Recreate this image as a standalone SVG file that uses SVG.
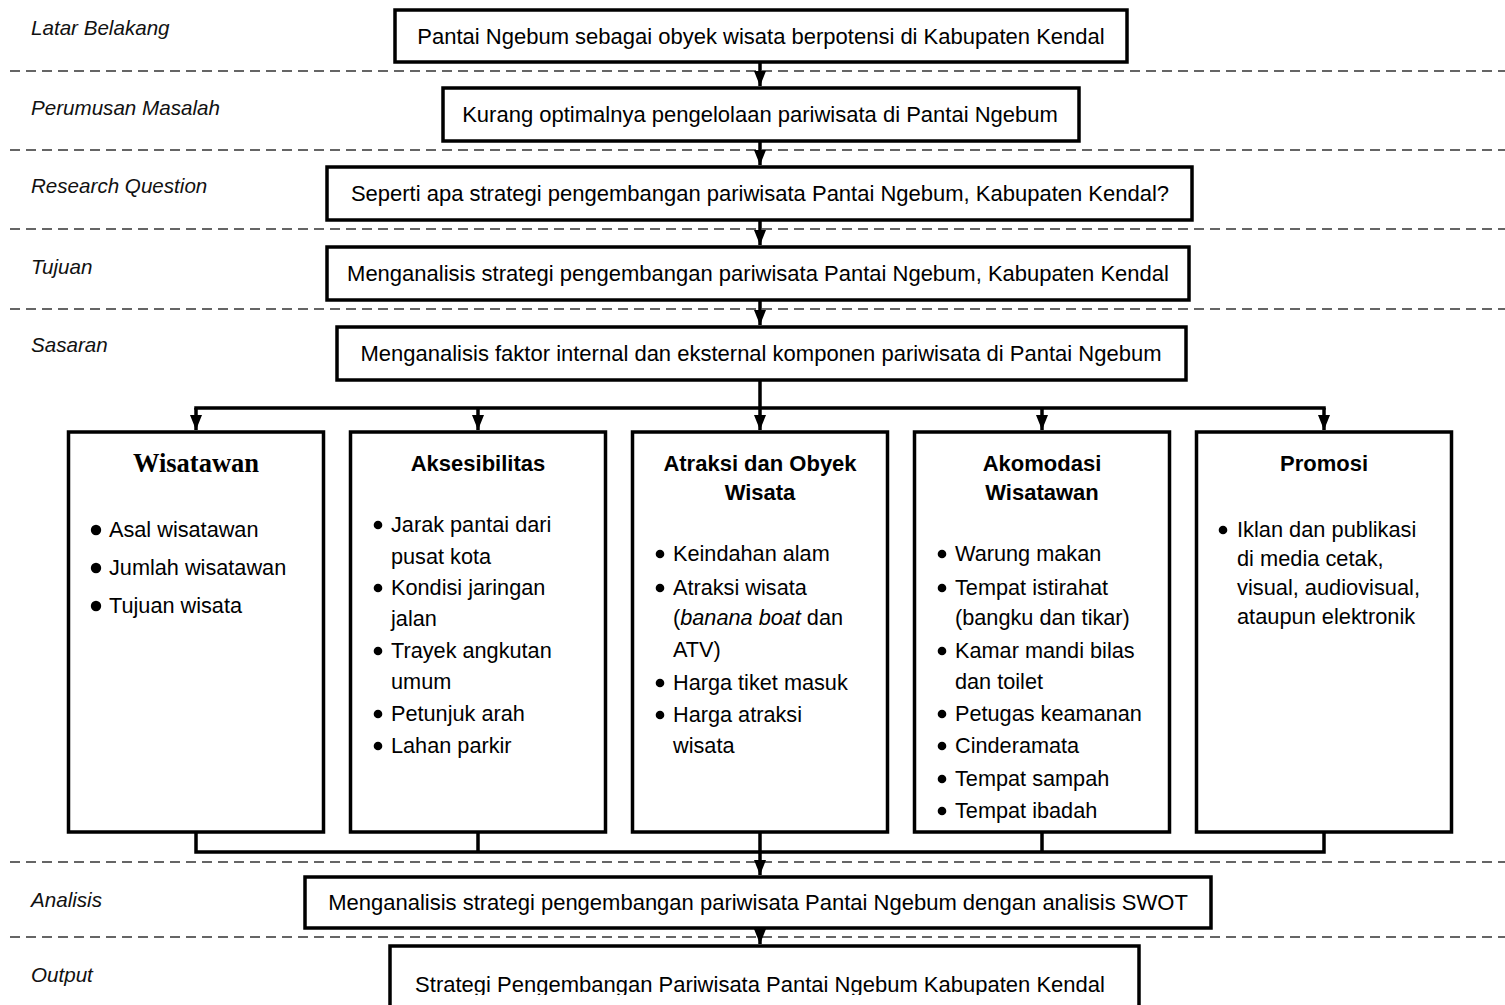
<svg xmlns="http://www.w3.org/2000/svg" width="1505" height="1005" viewBox="0 0 1505 1005">
<style>
  .bg{fill:#fff}
  .box{fill:#fff;stroke:#000;stroke-width:3.5}
  .dash{stroke:#333;stroke-width:1.5;stroke-dasharray:10 6;fill:none}
  .lab{font-family:"Liberation Sans",Arial,sans-serif;font-style:italic;font-size:20.6px;fill:#111}
  .t{font-family:"Liberation Sans",Arial,sans-serif;font-size:22px;fill:#000;text-anchor:middle}
  .h{font-family:"Liberation Sans",Arial,sans-serif;font-size:22px;font-weight:bold;fill:#000;text-anchor:middle}
  .hs{font-family:"Liberation Serif","Times New Roman",serif;font-size:26.5px;font-weight:bold;fill:#000;text-anchor:middle}
  .b{font-family:"Liberation Sans",Arial,sans-serif;font-size:21.7px;fill:#000}
  .p{font-family:"Liberation Sans",Arial,sans-serif;font-size:21.8px;fill:#000}
  .con{stroke:#000;stroke-width:3.5;fill:none}
</style>
<defs>
  <marker id="arr" markerUnits="userSpaceOnUse" viewBox="0 0 15 12" refX="15" refY="6" markerWidth="15" markerHeight="12" orient="auto">
    <path d="M0,0 L15,6 L0,12 z" fill="#000"/>
  </marker>
  <clipPath id="clipOut"><rect x="0" y="0" width="1505" height="995"/></clipPath>
</defs>
<rect class="bg" x="0" y="0" width="1505" height="1005"/>

<g id="separators">
  <line class="dash" x1="10" y1="71" x2="1505" y2="71"/>
  <line class="dash" x1="10" y1="150" x2="1505" y2="150"/>
  <line class="dash" x1="10" y1="229" x2="1505" y2="229"/>
  <line class="dash" x1="10" y1="309" x2="1505" y2="309"/>
  <line class="dash" x1="10" y1="862" x2="1505" y2="862"/>
  <line class="dash" x1="10" y1="937" x2="1505" y2="937"/>
</g>

<g id="labels">
  <text class="lab" x="31" y="35">Latar Belakang</text>
  <text class="lab" x="31" y="115">Perumusan Masalah</text>
  <text class="lab" x="31" y="193">Research Question</text>
  <text class="lab" x="31" y="274">Tujuan</text>
  <text class="lab" x="31" y="352">Sasaran</text>
  <text class="lab" x="31" y="907">Analisis</text>
  <text class="lab" x="31" y="982">Output</text>
</g>

<g id="connectors">
  <line class="con" x1="760" y1="62" x2="760" y2="86" marker-end="url(#arr)"/>
  <line class="con" x1="760" y1="141" x2="760" y2="165" marker-end="url(#arr)"/>
  <line class="con" x1="760" y1="220" x2="760" y2="245" marker-end="url(#arr)"/>
  <line class="con" x1="760" y1="300" x2="760" y2="325" marker-end="url(#arr)"/>
  <line class="con" x1="760" y1="380" x2="760" y2="408"/>
  <line class="con" x1="194.25" y1="408" x2="1325.75" y2="408"/>
  <line class="con" x1="196" y1="408" x2="196" y2="430" marker-end="url(#arr)"/>
  <line class="con" x1="478" y1="408" x2="478" y2="430" marker-end="url(#arr)"/>
  <line class="con" x1="760" y1="408" x2="760" y2="430" marker-end="url(#arr)"/>
  <line class="con" x1="1042" y1="408" x2="1042" y2="430" marker-end="url(#arr)"/>
  <line class="con" x1="1324" y1="408" x2="1324" y2="430" marker-end="url(#arr)"/>
  <path class="con" d="M196,832 V852 M478,832 V852 M1042,832 V852 M1324,832 V852 M194.25,852 H1325.75"/>
  <line class="con" x1="760" y1="832" x2="760" y2="875" marker-end="url(#arr)"/>
  <line class="con" x1="760" y1="928" x2="760" y2="944" marker-end="url(#arr)"/>
</g>

<g id="n-latar">
  <rect class="box" x="395" y="10" width="732" height="52"/>
  <text class="t" x="761" y="44">Pantai Ngebum sebagai obyek wisata berpotensi di Kabupaten Kendal</text>
</g>
<g id="n-masalah">
  <rect class="box" x="443" y="88" width="636" height="53"/>
  <text class="t" x="760" y="122">Kurang optimalnya pengelolaan pariwisata di Pantai Ngebum</text>
</g>
<g id="n-question">
  <rect class="box" x="327" y="167" width="865" height="53"/>
  <text class="t" x="760" y="201">Seperti apa strategi pengembangan pariwisata Pantai Ngebum, Kabupaten Kendal?</text>
</g>
<g id="n-tujuan">
  <rect class="box" x="327" y="247" width="862" height="53"/>
  <text class="t" x="758" y="281">Menganalisis strategi pengembangan pariwisata Pantai Ngebum, Kabupaten Kendal</text>
</g>
<g id="n-sasaran">
  <rect class="box" x="337" y="327" width="849" height="53"/>
  <text class="t" x="761" y="361">Menganalisis faktor internal dan eksternal komponen pariwisata di Pantai Ngebum</text>
</g>

<g id="n-wisatawan">
  <rect class="box" x="68.5" y="432" width="255" height="400"/>
  <text class="hs" x="196" y="472">Wisatawan</text>
  <circle cx="96" cy="530" r="5.2"/>
  <text class="b" x="109" y="537">Asal wisatawan</text>
  <circle cx="96" cy="568" r="5.2"/>
  <text class="b" x="109" y="575">Jumlah wisatawan</text>
  <circle cx="96" cy="606" r="5.2"/>
  <text class="b" x="109" y="613">Tujuan wisata</text>
</g>

<g id="n-aksesibilitas">
  <rect class="box" x="350.5" y="432" width="255" height="400"/>
  <text class="h" x="478" y="471">Aksesibilitas</text>
  <circle cx="378" cy="525" r="4.3"/>
  <text class="b" x="391" y="532">Jarak pantai dari</text>
  <text class="b" x="391" y="564">pusat kota</text>
  <circle cx="378" cy="588" r="4.3"/>
  <text class="b" x="391" y="595">Kondisi jaringan</text>
  <text class="b" x="391" y="626">jalan</text>
  <circle cx="378" cy="651" r="4.3"/>
  <text class="b" x="391" y="658">Trayek angkutan</text>
  <text class="b" x="391" y="689">umum</text>
  <circle cx="378" cy="714" r="4.3"/>
  <text class="b" x="391" y="721">Petunjuk arah</text>
  <circle cx="378" cy="746" r="4.3"/>
  <text class="b" x="391" y="753">Lahan parkir</text>
</g>

<g id="n-atraksi">
  <rect class="box" x="632.5" y="432" width="255" height="400"/>
  <text class="h" x="760" y="471">Atraksi dan Obyek</text>
  <text class="h" x="760" y="500">Wisata</text>
  <circle cx="660" cy="554" r="4.3"/>
  <text class="b" x="673" y="561">Keindahan alam</text>
  <circle cx="660" cy="588" r="4.3"/>
  <text class="b" x="673" y="595">Atraksi wisata</text>
  <text class="b" x="673" y="625">(<tspan font-style="italic">banana boat</tspan> dan</text>
  <text class="b" x="673" y="657">ATV)</text>
  <circle cx="660" cy="683" r="4.3"/>
  <text class="b" x="673" y="690">Harga tiket masuk</text>
  <circle cx="660" cy="715" r="4.3"/>
  <text class="b" x="673" y="722">Harga atraksi</text>
  <text class="b" x="673" y="753">wisata</text>
</g>

<g id="n-akomodasi">
  <rect class="box" x="914.5" y="432" width="255" height="400"/>
  <text class="h" x="1042" y="471">Akomodasi</text>
  <text class="h" x="1042" y="500">Wisatawan</text>
  <circle cx="942" cy="554" r="4.3"/>
  <text class="b" x="955" y="561">Warung makan</text>
  <circle cx="942" cy="588" r="4.3"/>
  <text class="b" x="955" y="595">Tempat istirahat</text>
  <text class="b" x="955" y="625">(bangku dan tikar)</text>
  <circle cx="942" cy="651" r="4.3"/>
  <text class="b" x="955" y="658">Kamar mandi bilas</text>
  <text class="b" x="955" y="689">dan toilet</text>
  <circle cx="942" cy="714" r="4.3"/>
  <text class="b" x="955" y="721">Petugas keamanan</text>
  <circle cx="942" cy="746" r="4.3"/>
  <text class="b" x="955" y="753">Cinderamata</text>
  <circle cx="942" cy="779" r="4.3"/>
  <text class="b" x="955" y="786">Tempat sampah</text>
  <circle cx="942" cy="811" r="4.3"/>
  <text class="b" x="955" y="818">Tempat ibadah</text>
</g>

<g id="n-promosi">
  <rect class="box" x="1196.5" y="432" width="255" height="400"/>
  <text class="h" x="1324" y="471">Promosi</text>
  <circle cx="1223" cy="530" r="4.3"/>
  <text class="p" x="1237" y="537">Iklan dan publikasi</text>
  <text class="p" x="1237" y="566">di media cetak,</text>
  <text class="p" x="1237" y="595">visual, audiovisual,</text>
  <text class="p" x="1237" y="624">ataupun elektronik</text>
</g>

<g id="n-analisis">
  <rect class="box" x="305" y="877" width="906" height="51"/>
  <text class="t" x="758" y="910">Menganalisis strategi pengembangan pariwisata Pantai Ngebum dengan analisis SWOT</text>
</g>
<g id="n-output">
  <rect class="box" x="390" y="946" width="749" height="70"/>
  <text class="t" x="760" y="992" clip-path="url(#clipOut)">Strategi Pengembangan Pariwisata Pantai Ngebum Kabupaten Kendal</text>
</g>
</svg>
